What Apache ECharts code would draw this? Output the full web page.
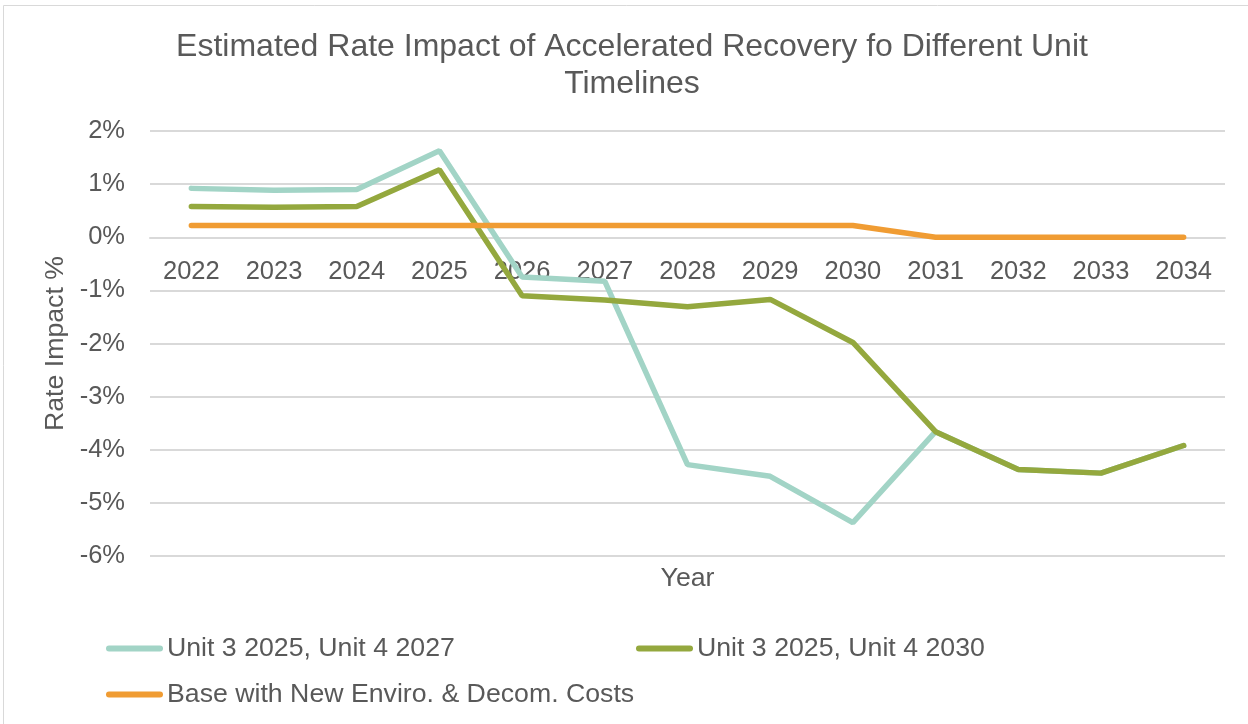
<!DOCTYPE html>
<html><head><meta charset="utf-8">
<script src="https://cdn.jsdelivr.net/npm/echarts@6/dist/echarts.min.js"></script>
<style>html,body{margin:0;padding:0;background:#fff}#c{width:1248px;height:724px}</style>
</head><body><div id="c"></div>
<script>
const categories = ['2022','2023','2024','2025','2026','2027','2028','2029','2030','2031','2032','2033','2034'];
const unit4_2027 = [0.92, 0.885, 0.90, 1.63, -0.75, -0.83, -4.28, -4.50, -5.37, -3.66, -4.37, -4.44, -3.92];
const unit4_2030 = [0.58, 0.565, 0.58, 1.27, -1.10, -1.18, -1.31, -1.17, -1.98, -3.66, -4.37, -4.44, -3.92];
const base = [0.22, 0.22, 0.22, 0.22, 0.22, 0.22, 0.22, 0.22, 0.22, 0.00, 0.00, 0.00, 0.00];
const names = ['Unit 3 2025, Unit 4 2027', 'Unit 3 2025, Unit 4 2030', 'Base with New Enviro. & Decom. Costs'];
const colors = ['#A2D4C6', '#94A83E', '#F09C33'];
const FONT = '"Liberation Sans", Arial, sans-serif';
const TXT = '#595959';
const Y_MIN = -6, Y_MAX = 2;
const GRID_TOP = 131, GRID_BOTTOM = 168, CHART_H = 724;
// distance from plot bottom to the 0% line, so that the category labels sit on the zero line
const plotH = CHART_H - GRID_TOP - GRID_BOTTOM;
const zeroOffset = plotH * (0 - Y_MIN) / (Y_MAX - Y_MIN);
const chart = echarts.init(document.getElementById('c'));
const legendBase = {
  orient: 'horizontal', itemWidth: 57, itemHeight: 6, itemGap: 0,
  icon: 'path://M3,0 L54,0 A3,3 0 0 1 54,6 L3,6 A3,3 0 0 1 3,0 Z',
  textStyle: {fontFamily: FONT, fontSize: 26.7, color: TXT, padding: [0,0,0,-1]},
  padding: 0
};
chart.setOption({
  animation: false,
  graphic: [{type: 'rect', shape: {x: 3.5, y: 5.5, width: 1400, height: 900}, style: {fill: 'none', stroke: '#d9d9d9', lineWidth: 1}, silent: true}],
  title: {
    text: 'Estimated Rate Impact of Accelerated Recovery fo Different Unit\nTimelines',
    left: 627, top: 24, textAlign: 'center',
    textStyle: {fontFamily: FONT, fontSize: 32, fontWeight: 'normal', color: TXT, lineHeight: 37}
  },
  legend: [
    Object.assign({}, legendBase, {data: [names[0]], left: 106, top: 635}),
    Object.assign({}, legendBase, {data: [names[1]], left: 636, top: 635}),
    Object.assign({}, legendBase, {data: [names[2]], left: 106, top: 681})
  ],
  grid: {left: 150, right: 23, top: GRID_TOP, bottom: GRID_BOTTOM, containLabel: false, outerBoundsMode: 'none'},
  xAxis: {
    type: 'category', data: categories, boundaryGap: true,
    offset: -zeroOffset,
    name: 'Year', nameLocation: 'middle', nameGap: 328,
    nameTextStyle: {fontFamily: FONT, fontSize: 26.7, color: TXT},
    axisLine: {show: true, onZero: false, lineStyle: {color: '#d9d9d9', width: 2}}, axisTick: {show: false},
    axisLabel: {fontFamily: FONT, fontSize: 25.5, color: TXT, margin: 22}
  },
  yAxis: {
    type: 'value', min: Y_MIN, max: Y_MAX, interval: 1,
    name: 'Rate Impact %', nameLocation: 'middle', nameGap: 78, nameRotate: 90,
    nameTextStyle: {fontFamily: FONT, fontSize: 26.7, color: TXT},
    axisLine: {show: false}, axisTick: {show: false},
    axisLabel: {fontFamily: FONT, fontSize: 25.5, color: TXT, margin: 25, formatter: '{value}%'},
    splitLine: {lineStyle: {color: '#d9d9d9', width: 2}}
  },
  series: [
    {name: names[0], type: 'line', data: unit4_2027, symbol: 'none', lineStyle: {width: 5.5, color: colors[0], cap: 'round'}, itemStyle: {color: colors[0]}},
    {name: names[1], type: 'line', data: unit4_2030, symbol: 'none', lineStyle: {width: 5.5, color: colors[1], cap: 'round'}, itemStyle: {color: colors[1]}},
    {name: names[2], type: 'line', data: base, symbol: 'none', lineStyle: {width: 5.5, color: colors[2], cap: 'round'}, itemStyle: {color: colors[2]}}
  ]
});
</script></body></html>
